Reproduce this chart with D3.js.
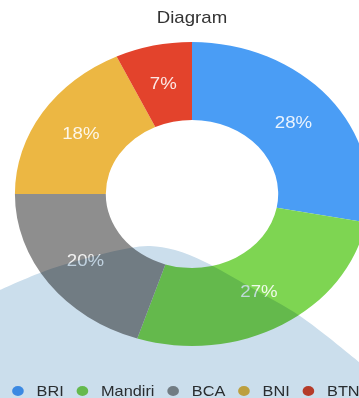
<!DOCTYPE html>
<html>
<head>
<meta charset="utf-8">
<script src="https://cdn.jsdelivr.net/npm/d3@7"></script>
<style>
  html, body { margin: 0; padding: 0; background: #fff; overflow: hidden; }
  svg { display: block; }
  text { font-family: Helvetica, Arial, "Liberation Sans", sans-serif; }
</style>
</head>
<body>
<svg id="chart" width="359" height="398"></svg>
<script>
// ---- data ----
const title = "Diagram";
const categories = ["BRI", "Mandiri", "BCA", "BNI", "BTN"];
const values = [28, 27, 20, 18, 7];
const colors = ["#4A9DF5", "#7ED552", "#8E8E8E", "#ECB743", "#E3432C"];

// ---- layout ----
const W = 359, H = 398;
const cx = 192, cy = 194;
const sx = 1.165;            // the reference is stretched horizontally
const outerR = 152, innerR = 74;

const svg = d3.select("#chart");

// stretched group around the chart centre
const g = svg.append("g")
  .attr("transform", `translate(${cx},0) scale(${sx},1) translate(${-cx},0)`);

g.append("text")
  .attr("x", cx).attr("y", 23)
  .attr("text-anchor", "middle")
  .attr("font-size", 16)
  .attr("fill", "#333")
  .text(title);

const color = d3.scaleOrdinal().domain(categories).range(colors);
const pie = d3.pie().sort(null).value(d => d.value);
const arc = d3.arc().innerRadius(innerR).outerRadius(outerR);
const data = categories.map((c, i) => ({ name: c, value: values[i] }));
const arcs = pie(data);

const donut = g.append("g").attr("transform", `translate(${cx},${cy})`);
donut.selectAll("path")
  .data(arcs)
  .join("path")
  .attr("d", arc)
  .attr("fill", d => color(d.data.name));

donut.selectAll("text.lbl")
  .data(arcs)
  .join("text")
  .attr("class", "lbl")
  .attr("transform", d => `translate(${arc.centroid(d)})`)
  .attr("text-anchor", "middle")
  .attr("dy", "0.36em")
  .attr("font-size", 16)
  .attr("fill", "#fff")
  .attr("fill-opacity", 0.88)
  .text(d => `${d.data.value}%`);

// legend
const legend = g.append("g");
let lx = 37.6;
const ly = 391;
categories.forEach((c, i) => {
  legend.append("circle")
    .attr("cx", lx + 5).attr("cy", ly).attr("r", 5)
    .attr("fill", color(c));
  const t = legend.append("text")
    .attr("x", lx + 21).attr("y", ly + 5)
    .attr("font-size", 14)
    .attr("fill", "#333")
    .text(c);
  lx = lx + 21 + t.node().getComputedTextLength() + 11;
});

// decorative translucent overlay seen in the reference (not data)
const overlayShape = [[0, 290], [45, 271], [95, 256], [130, 248], [150, 246],
  [175, 250], [205, 262], [250, 287], [300, 316], [359, 362]];
const line = d3.line().curve(d3.curveCatmullRom.alpha(0.5));
svg.append("path")
  .attr("d", line(overlayShape) + `L${W},${H}L0,${H}Z`)
  .attr("fill", "#CBDEEC")
  .style("mix-blend-mode", "multiply");
</script>
</body>
</html>
